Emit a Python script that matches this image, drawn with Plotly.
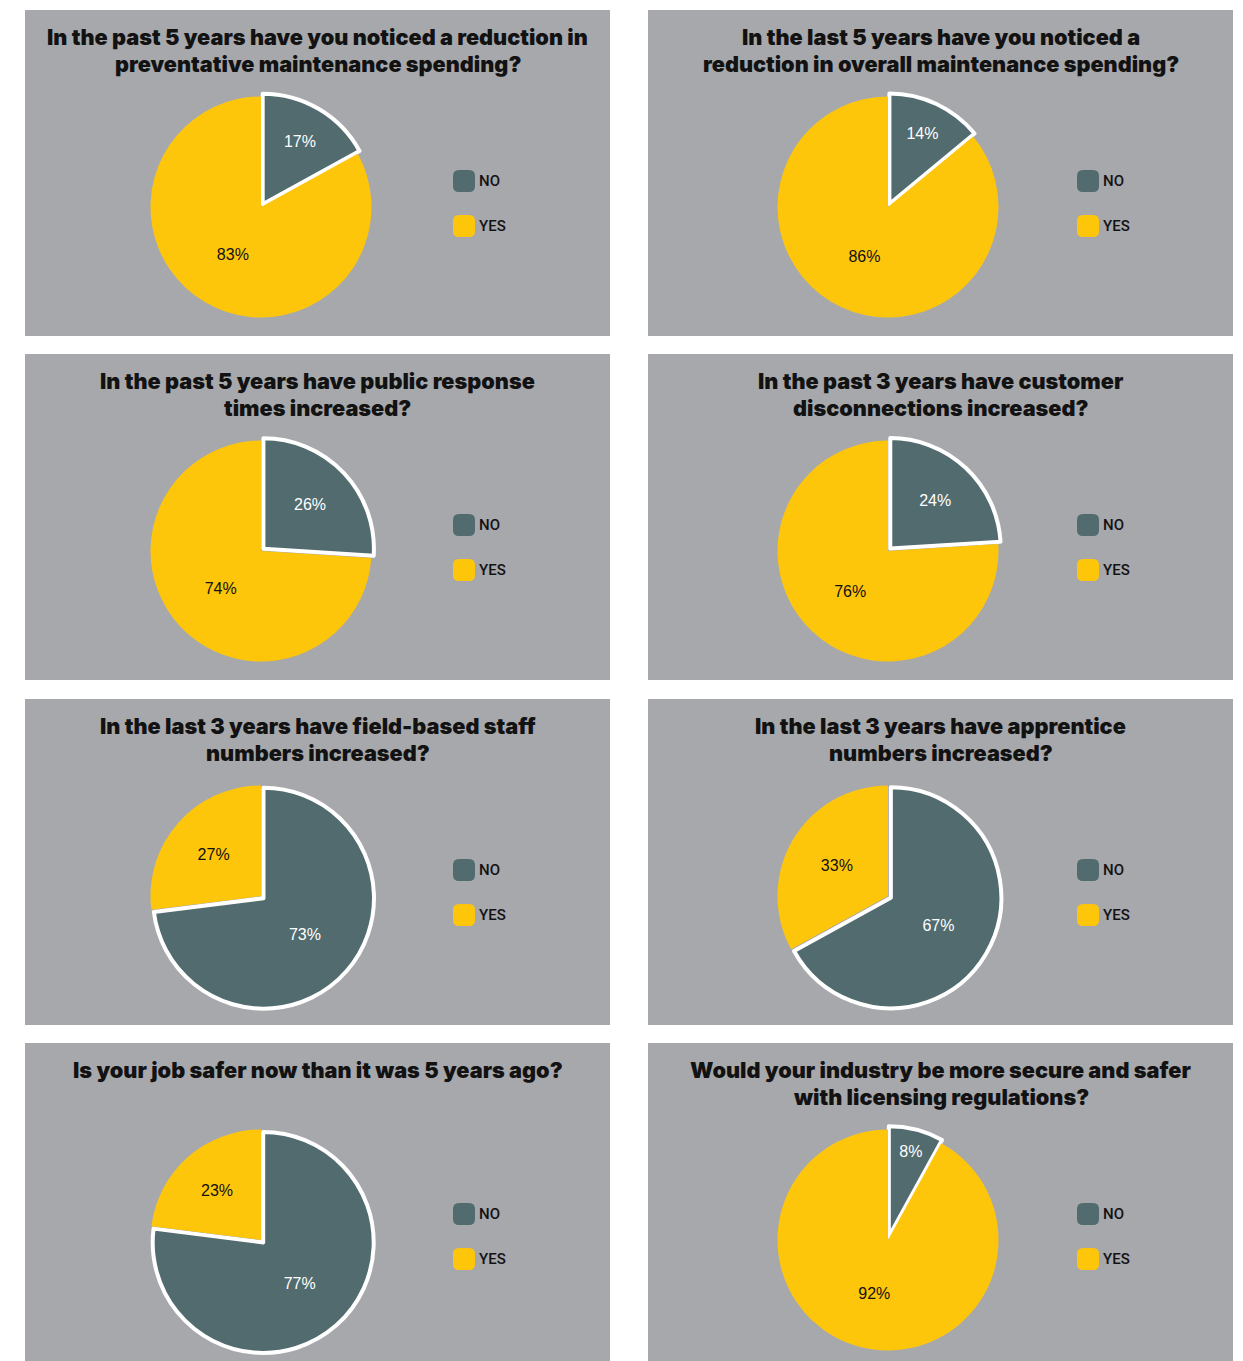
import plotly.graph_objects as go

W, H = 1243, 1361

questions = [
    ["In the past 5 years have you noticed a reduction in", "preventative maintenance spending?"],
    ["In the last 5 years have you noticed a", "reduction in overall maintenance spending?"],
    ["In the past 5 years have public response", "times increased?"],
    ["In the past 3 years have customer", "disconnections increased?"],
    ["In the last 3 years have field-based staff", "numbers increased?"],
    ["In the last 3 years have apprentice", "numbers increased?"],
    ["Is your job safer now than it was 5 years ago?"],
    ["Would your industry be more secure and safer", "with licensing regulations?"],
]
no_pct = [17, 14, 26, 24, 73, 67, 77, 8]
yes_pct = [83, 86, 74, 76, 27, 33, 23, 92]
answer_labels = ["NO", "YES"]
answer_colors = ["#516b6e", "#fec60b"]
text_colors = ["#ffffff", "#111111"]

panel_color = "#a7a8ac"
panel_left = [25, 648]
panel_top = [10, 354, 699, 1043]
panel_w, panel_h = 585, 326
pie_dx = [236, 240]
pie_dy = 197
pie_r = 110.5
pull = 0.03


def px(x):
    return x / W


def py(y):
    return 1 - y / H


def rounded_rect(x0, y0, x1, y1, r):
    # rounded rectangle path in paper coordinates, from pixel corners
    pts = [
        f"M {px(x0 + r)} {py(y0)}",
        f"L {px(x1 - r)} {py(y0)}",
        f"Q {px(x1)} {py(y0)} {px(x1)} {py(y0 + r)}",
        f"L {px(x1)} {py(y1 - r)}",
        f"Q {px(x1)} {py(y1)} {px(x1 - r)} {py(y1)}",
        f"L {px(x0 + r)} {py(y1)}",
        f"Q {px(x0)} {py(y1)} {px(x0)} {py(y1 - r)}",
        f"L {px(x0)} {py(y0 + r)}",
        f"Q {px(x0)} {py(y0)} {px(x0 + r)} {py(y0)}",
        "Z",
    ]
    return " ".join(pts)


fig = go.Figure()
shapes = []
annotations = []

for i, lines in enumerate(questions):
    col, row = i % 2, i // 2
    left, top = panel_left[col], panel_top[row]

    # panel background
    shapes.append(dict(
        type="rect", xref="paper", yref="paper", layer="below",
        x0=px(left), x1=px(left + panel_w), y0=py(top + panel_h), y1=py(top),
        fillcolor=panel_color, line=dict(width=0),
    ))

    # question title, one annotation per line for tight leading
    for j, line in enumerate(lines):
        annotations.append(dict(
            text=line, xref="paper", yref="paper",
            x=px(left + panel_w / 2), y=py(top + 27 + 27 * j),
            xanchor="center", yanchor="middle",
            showarrow=False, align="center",
            font=dict(family="Inter", size=21.7, color="#121212", weight=900),
        ))

    # pie
    cx, cy = left + pie_dx[col], top + pie_dy
    half = pie_r * (1 + pull)
    fig.add_trace(go.Pie(
        labels=answer_labels,
        values=[no_pct[i], yes_pct[i]],
        sort=False, direction="clockwise", rotation=0,
        pull=[pull, 0],
        marker=dict(colors=answer_colors,
                    line=dict(color=["#ffffff", "#ffffff"], width=[4, 0])),
        texttemplate="%{value}%",
        textposition="inside",
        insidetextorientation="horizontal",
        textfont=dict(family="Liberation Sans", size=16, color=text_colors),
        hoverinfo="label+value",
        showlegend=False,
        domain=dict(x=[px(cx - half), px(cx + half)],
                    y=[py(cy + half), py(cy - half)]),
    ))

    # legend swatches
    sw_x = left + (428 if col == 0 else 429)
    for k, (lab, colr) in enumerate(zip(answer_labels, answer_colors)):
        yc = top + 171 + 45 * k
        shapes.append(dict(
            type="path", xref="paper", yref="paper",
            path=rounded_rect(sw_x, yc - 11, sw_x + 22, yc + 11, 6),
            fillcolor=colr, line=dict(width=0),
        ))
        annotations.append(dict(
            text=lab, xref="paper", yref="paper",
            x=px(sw_x + 24), y=py(yc), xanchor="left", yanchor="middle",
            showarrow=False,
            font=dict(family="Roboto", size=15, color="#121212", weight=500),
        ))

fig.update_layout(
    width=W, height=H,
    margin=dict(l=0, r=0, t=0, b=0),
    paper_bgcolor="#ffffff",
    plot_bgcolor="#ffffff",
    shapes=shapes,
    annotations=annotations,
)

fig.write_html("out.html")
